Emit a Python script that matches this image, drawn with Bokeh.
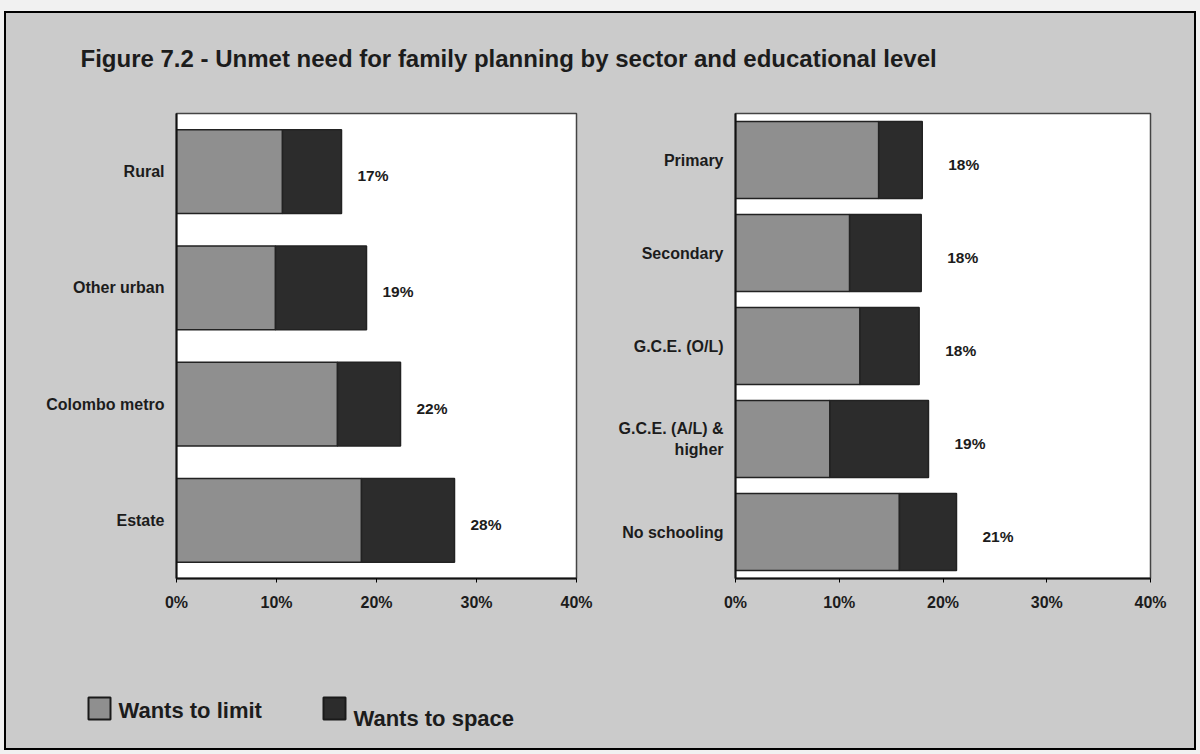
from bokeh.plotting import figure
from bokeh.layouts import column, row
from bokeh.models import Range1d, FactorRange, ColumnDataSource, FixedTicker, PrintfTickFormatter
from bokeh.core.properties import value
from bokeh.embed import file_html
from bokeh.resources import INLINE

# ---------------- data ----------------
sectors = ["Rural", "Other urban", "Colombo metro", "Estate"]
sector_limit = [10.6, 9.9, 16.1, 18.5]
sector_space = [5.9, 9.1, 6.3, 9.3]
sector_total_labels = ["17%", "19%", "22%", "28%"]

education = ["Primary", "Secondary", "G.C.E. (O/L)", "G.C.E. (A/L) &\nhigher", "No schooling"]
edu_limit = [13.8, 11.0, 12.0, 9.1, 15.8]
edu_space = [4.2, 6.9, 5.7, 9.5, 5.5]
edu_total_labels = ["18%", "18%", "18%", "19%", "21%"]

x_ticks = [0, 10, 20, 30, 40]
series = ["Wants to limit", "Wants to space"]
title_text = "Figure 7.2 - Unmet need for family planning by sector and educational level"

# ---------------- styling ----------------
FONT = "Liberation Sans"
BG = "#cbcbcb"
OUTER = "#f1f1f1"
LIMIT = "#8f8f8f"
SPACE = "#2c2c2c"
INK = "#1c1c1c"


def transparent(p):
    p.background_fill_alpha = 0
    p.border_fill_alpha = 0


def canvas(w, h, x0, y0):
    p = figure(width=w, height=h, x_range=Range1d(x0, x0 + w), y_range=Range1d(y0 + h, y0),
               min_border=0, output_backend="svg", toolbar_location=None,
               x_axis_location=None, y_axis_location=None)
    p.grid.visible = False
    p.outline_line_color = None
    transparent(p)
    return p


def panel(cats, limit, space, labels, width, height, mb_left, mb_right, mb_top, mb_bottom, bar_h, lab_dx):
    p = figure(width=width, height=height, x_range=Range1d(0, 40), y_range=FactorRange(factors=cats[::-1]),
               output_backend="svg", toolbar_location=None,
               min_border_left=mb_left, min_border_right=mb_right,
               min_border_top=mb_top, min_border_bottom=mb_bottom)
    total = [a + b for a, b in zip(limit, space)]
    src = ColumnDataSource(dict(cat=cats, limit=limit, total=total, label=labels))
    p.hbar(y="cat", left=0, right="limit", height=bar_h, source=src,
           fill_color=LIMIT, line_color="#222222", line_width=1.5)
    p.hbar(y="cat", left="limit", right="total", height=bar_h, source=src,
           fill_color=SPACE, line_color="#222222", line_width=1.5)
    p.text(x="total", y="cat", text="label", source=src, x_offset=lab_dx, y_offset=4,
           text_align="left", text_baseline="middle", text_color=INK,
           text_font=value(FONT), text_font_style="bold", text_font_size="15.5px")
    p.background_fill_color = "white"
    p.border_fill_alpha = 0
    p.outline_line_color = "#444444"
    p.outline_line_width = 1.5
    p.grid.visible = False

    xa = p.xaxis[0]
    xa.ticker = FixedTicker(ticks=x_ticks)
    xa.formatter = PrintfTickFormatter(format="%d%%")
    xa.minor_tick_line_color = None
    xa.major_tick_in = 0
    xa.major_tick_out = 4
    xa.major_label_standoff = 11
    xa.axis_line_width = 2
    xa.axis_line_color = "#111111"
    xa.major_label_text_font = FONT
    xa.major_label_text_font_style = "bold"
    xa.major_label_text_font_size = "16px"
    xa.major_label_text_color = INK

    ya = p.yaxis[0]
    ya.major_tick_line_color = None
    ya.major_tick_out = 0
    ya.major_tick_in = 0
    ya.minor_tick_line_color = None
    ya.axis_line_width = 2
    ya.axis_line_color = "#111111"
    ya.major_label_standoff = 12
    ya.major_label_text_font = FONT
    ya.major_label_text_font_style = "bold"
    ya.major_label_text_font_size = "16px"
    ya.major_label_text_color = INK
    return p


# ---------------- top band: title ----------------
top = canvas(1188, 92, 6, 13)
top.text(x=[80], y=[58], text=[title_text], text_align="left", text_baseline="middle",
         text_color=INK, text_font=value(FONT), text_font_style="bold", text_font_size="24px")

# ---------------- middle band: the two panels ----------------
left = panel(sectors, sector_limit, sector_space, sector_total_labels,
             594, 525, 170, 24, 8, 52, 0.72, 16)
right = panel(education, edu_limit, edu_space, edu_total_labels,
              594, 525, 135, 44, 8, 52, 0.83, 26)

# ---------------- bottom band: legend ----------------
bottom = canvas(1188, 118, 6, 630)
bottom.quad(left=[88, 323], right=[110, 345], top=[697, 697], bottom=[719, 719],
            fill_color=[LIMIT, SPACE], line_color="#1a1a1a", line_width=2)
bottom.text(x=[118, 353], y=[710, 718], text=series, text_align="left", text_baseline="middle",
            text_color=INK, text_font=value(FONT), text_font_style="bold", text_font_size="22px")

inner = column(top, row(left, right), bottom,
               styles={"background-color": BG, "border": "2px solid black"})
page = column(inner, styles={"background-color": OUTER, "padding-top": "11px",
                             "padding-left": "4px", "padding-right": "4px", "padding-bottom": "4px"})

open("out.html", "w").write(file_html(page, INLINE))
